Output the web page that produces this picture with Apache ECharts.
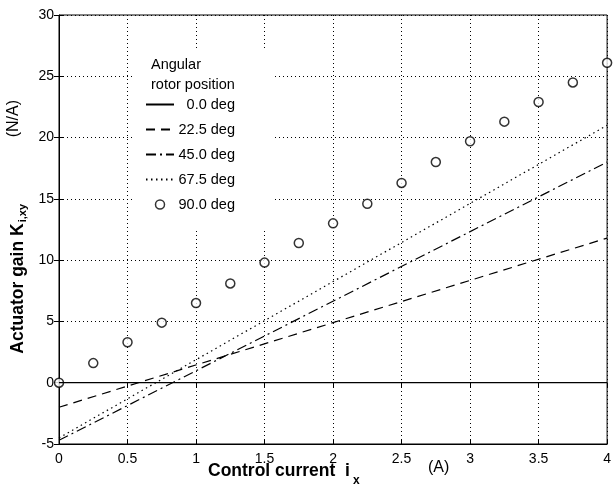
<!DOCTYPE html>
<html>
<head>
<meta charset="utf-8">
<script src="https://cdn.jsdelivr.net/npm/echarts@6/dist/echarts.min.js"></script>
<style>
  html, body { margin: 0; padding: 0; background: #fff; }
  #main { width: 614px; height: 486px; }
</style>
</head>
<body>
<div id="main"></div>
<script>
// straight lines are drawn between their two end points
const lineX = [0, 4];
const deg0 = [0, 0];
const deg225 = [-2.0, 11.8];
const deg45 = [-4.7, 18.0];
const deg675 = [-4.5, 21.0];
// measured points, 90 deg
const pointX = [0, 0.25, 0.5, 0.75, 1, 1.25, 1.5, 1.75, 2, 2.25, 2.5, 2.75, 3, 3.25, 3.5, 3.75, 4];
const deg90 = [0, 1.6, 3.3, 4.9, 6.5, 8.1, 9.8, 11.4, 13.0, 14.6, 16.3, 18.0, 19.7, 21.3, 22.9, 24.5, 26.1];
const legendNames = ['0.0 deg', '22.5 deg', '45.0 deg', '67.5 deg', '90.0 deg'];

const font = 'Liberation Sans, Arial, sans-serif';
const pair = (xs, ys) => xs.map((x, i) => [x, ys[i]]);

var dom = document.getElementById('main');
var myChart = echarts.init(dom, null, { renderer: 'canvas' });

function lineSeries(name, ys, type) {
  return {
    name: name,
    type: 'line',
    data: pair(lineX, ys),
    symbol: 'none',
    lineStyle: { color: '#000', width: 1.2, type: type },
    itemStyle: { color: '#000' },
    animation: false
  };
}

// legend entries: lines without the dot, open circle for the measured points
var legendData = legendNames.map((n, i) => i < 4
  ? { name: n, itemStyle: { opacity: 0 } }
  : { name: n, icon: 'circle', itemStyle: { color: '#fff', borderColor: '#000', borderWidth: 1.5 } });

var option = {
  backgroundColor: '#fff',
  animation: false,
  title: {
    text: 'Angular\nrotor position',
    left: 146,
    top: 50,
    textStyle: { fontFamily: font, fontSize: 14.5, fontWeight: 'normal', color: '#000', lineHeight: 20 }
  },
  legend: {
    data: legendData,
    orient: 'vertical',
    left: 140,
    top: 92,
    itemWidth: 28,
    itemHeight: 9,
    itemGap: 10,
    formatter: n => '{a|' + n + '}',
    textStyle: {
      fontFamily: font, fontSize: 14.5, color: '#000',
      rich: { a: { width: 56, align: 'right', fontFamily: font, fontSize: 14.5, color: '#000' } }
    }
  },
  grid: { left: 59, right: 3, top: 15, bottom: 42, show: true, borderColor: '#000', borderWidth: 1 },
  xAxis: [{
    type: 'value', min: 0, max: 4, interval: 0.5,
    axisLine: { show: true, onZero: false, lineStyle: { color: '#000' } },
    axisTick: { inside: true, length: 5, lineStyle: { color: '#000' } },
    axisLabel: { color: '#000', fontFamily: font, fontSize: 14, margin: 8 },
    splitLine: { show: true, lineStyle: { color: '#000', type: [1, 3], width: 1 } }
  }, {
    type: 'value', min: 0, max: 4, interval: 0.5, position: 'top',
    axisLine: { show: false },
    axisTick: { inside: true, length: 5, lineStyle: { color: '#000' } },
    axisLabel: { show: false },
    splitLine: { show: false }
  }],
  yAxis: [{
    type: 'value', min: -5, max: 30, interval: 5,
    axisLine: { show: true, onZero: false, lineStyle: { color: '#000' } },
    axisTick: { inside: true, length: 5, lineStyle: { color: '#000' } },
    axisLabel: { color: '#000', fontFamily: font, fontSize: 14, margin: 5 },
    splitLine: { show: true, lineStyle: { color: '#000', type: [1, 3], width: 1 } }
  }, {
    type: 'value', min: -5, max: 30, interval: 5, position: 'right',
    axisLine: { show: false },
    axisTick: { inside: true, length: 5, lineStyle: { color: '#000' } },
    axisLabel: { show: false },
    splitLine: { show: false }
  }],
  graphic: [
    // white box behind the legend, hides the grid lines there
    {
      type: 'rect', left: 133, top: 48, z: 3,
      shape: { width: 140, height: 182 },
      style: { fill: '#fff' }
    },
    {
      type: 'text', left: 9, top: 204, rotation: Math.PI / 2,
      style: {
        text: '{b|Actuator gain K}{s|i,xy}',
        rich: {
          b: { fontFamily: font, fontSize: 17.5, fontWeight: 'bold', fill: '#000' },
          s: { fontFamily: font, fontSize: 11, fontWeight: 'bold', fill: '#000', padding: [10, 0, 0, 1] }
        }
      }
    },
    {
      type: 'text', left: 6, top: 100, rotation: Math.PI / 2,
      style: { text: '(N/A)', fontFamily: font, fontSize: 16, fill: '#000' }
    },
    {
      type: 'text', left: 208, top: 462,
      style: {
        text: '{b|Control current  i}{s|x}',
        rich: {
          b: { fontFamily: font, fontSize: 17.5, fontWeight: 'bold', fill: '#000' },
          s: { fontFamily: font, fontSize: 12, fontWeight: 'bold', fill: '#000', padding: [20, 0, 0, 3] }
        }
      }
    },
    {
      type: 'text', left: 428, top: 460,
      style: { text: '(A)', fontFamily: font, fontSize: 16, fill: '#000' }
    }
  ],
  series: [
    lineSeries(legendNames[0], deg0, 'solid'),
    lineSeries(legendNames[1], deg225, [9, 6]),
    lineSeries(legendNames[2], deg45, [10, 4, 2, 4]),
    lineSeries(legendNames[3], deg675, [1.5, 3.5]),
    {
      name: legendNames[4],
      type: 'scatter',
      data: pair(pointX, deg90),
      symbol: 'circle',
      symbolSize: 9,
      clip: false,
      itemStyle: { color: '#fff', borderColor: '#000', borderWidth: 1.5 }
    }
  ]
};

option && myChart.setOption(option);
</script>
</body>
</html>
